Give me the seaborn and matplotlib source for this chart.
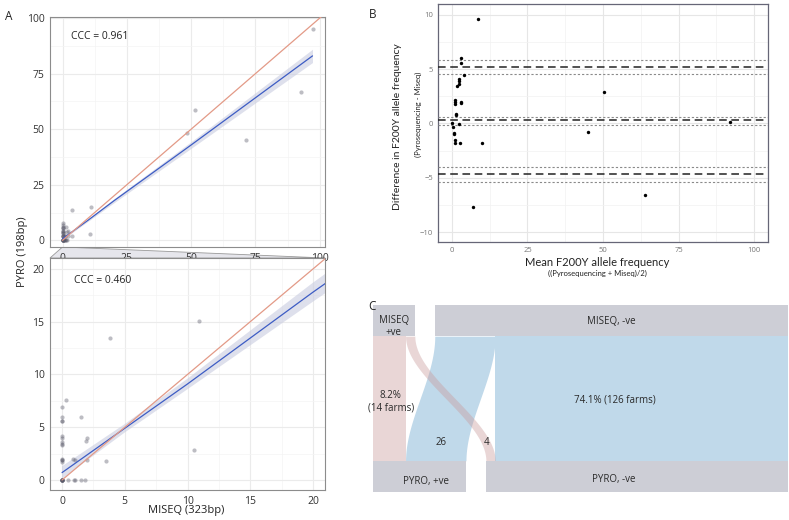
import numpy as np
import pandas as pd
import matplotlib.pyplot as plt
from matplotlib.patches import Polygon
import seaborn as sns

sns.set_theme(style="whitegrid")
plt.rcParams['font.family'] = ['Open Sans', 'DejaVu Sans']

# %%
# Data, panel A: F200Y allele frequency (%) per farm, MISEQ vs PYRO
miseq = [97.2, 92.9, 71.2, 51.5, 48.3,
         10.9, 3.8, 10.5, 3.5,
         0.35, 0, 0, 0, 0, 0, 0, 0, 0, 0, 0, 0, 0, 0,
         1.55, 2.0, 1.9, 1.95, 0.85, 1.0,
         0.5, 0.95, 1.05, 1.5, 1.8,
         0, 0, 0, 0, 0, 0, 0, 0]
pyro = [95.3, 66.7, 45.0, 58.5, 48.3,
        15.1, 13.5, 2.8, 1.8,
        7.6, 6.9, 6.0, 5.6, 5.6, 4.2, 4.0, 3.6, 3.4, 3.3, 2.0, 1.9, 1.85, 1.75,
        6.0, 4.0, 3.7, 1.9, 1.95, 1.9,
        0, 0, 0, 0, 0,
        0, 0, 0, 0, 0, 0, 0, 0]

# linear fit with its confidence band
fit_x = [0, 5, 10, 20, 50, 97.2]
fit_y = [0.7, 4.9, 9.1, 17.8, 42.9, 83.0]
fit_lo = [0.1, 4.5, 8.6, 16.9, 41.4, 80.0]
fit_hi = [1.3, 5.3, 9.6, 18.7, 44.4, 86.0]
identity = [0, 102]

ccc_full = "CCC = 0.961"
ccc_zoom = "CCC = 0.460"

# Data, panel B: Bland-Altman
ba_mean = [8.6, 3.1, 2.9, 4.0, 2.2, 2.2, 2.2, 1.8, 3.1, 3.0, 1.1, 1.1, 1.1,
           1.4, 1.5, 0.1, 0.3, 0.7, 0.8, 1.1, 1.1, 2.2, 2.8, 10.0, 7.0,
           45.2, 50.3, 64.0, 92.0]
ba_diff = [9.57, 6.0, 5.56, 4.48, 4.1, 3.9, 3.6, 3.4, 2.0, 1.85, 2.2, 2.0, 1.8,
           0.9, 0.8, 0.0, -0.3, -0.9, -1.0, -1.5, -1.8, -0.05, -1.8, -1.77, -7.7,
           -0.82, 2.85, -6.6, 0.17]
bias = 0.3
bias_ci = [-0.15, 0.6]
loa = [5.2, -4.65]
loa_ci = [[4.5, 5.85], [-5.4, -4.05]]

# Data, panel C: MISEQ -> PYRO classification of farms
flow_from = ['+ve', '+ve', '-ve', '-ve']
flow_to = ['+ve', '-ve', '+ve', '-ve']
flow_n = [14, 4, 26, 126]
flow_text = ['8.2%\n(14 farms)', '4', '26', '74.1% (126 farms)']

# %%
W, H = 789, 520
fig = plt.figure(figsize=(W / 100, H / 100), dpi=100)


def px_axes(l, t, r, b):
    return fig.add_axes([l / W, 1 - b / H, (r - l) / W, (b - t) / H])


def ftext(x, y, s, **kw):
    fig.text(x / W, 1 - y / H, s, **kw)


def style_a(ax, major, minor):
    ax.set_xticks(major)
    ax.set_yticks(major)
    ax.set_xticks(minor, minor=True)
    ax.set_yticks(minor, minor=True)
    ax.grid(which='major', color='#ebebeb', lw=0.8)
    ax.grid(which='minor', color='#f4f4f4', lw=0.5)
    ax.tick_params(which='major', length=2.5, width=0.6, color='#888888',
                   labelsize=7.5, labelcolor='#333333', pad=1.5)
    ax.tick_params(which='minor', length=0)
    for s in ax.spines.values():
        s.set_color('#8c8c8c')
        s.set_linewidth(0.8)
    ax.set_xlabel('')
    ax.set_ylabel('')


df_a = pd.DataFrame({'miseq': miseq, 'pyro': pyro})

axA1 = px_axes(50, 17, 325, 247)
axA2 = px_axes(50, 258, 325, 490)

for ax in (axA1, axA2):
    ax.fill_between(fit_x, fit_lo, fit_hi, color='#c9cce0', alpha=0.6, lw=0, zorder=2)
    sns.scatterplot(data=df_a, x='miseq', y='pyro', ax=ax, color='#5a5a6a',
                    alpha=0.4, s=9, linewidth=0, zorder=3)
    ax.plot(fit_x, fit_y, color='#3d5cc4', lw=0.9, zorder=4)
    ax.plot(identity, identity, color='#e39a87', lw=0.9, zorder=4)

axA1.set_xlim(-4.86, 102.06)
axA1.set_ylim(-3.0, 100.5)
style_a(axA1, [0, 25, 50, 75, 100], [12.5, 37.5, 62.5, 87.5])
axA1.text(0.075, 0.915, ccc_full, transform=axA1.transAxes, fontsize=7.5,
          color='#222222', va='center')

axA2.set_xlim(-0.96, 20.96)
axA2.set_ylim(-0.95, 21.04)
style_a(axA2, [0, 5, 10, 15, 20], [2.5, 7.5, 12.5, 17.5])
axA2.text(0.087, 0.905, ccc_zoom, transform=axA2.transAxes, fontsize=7.5,
          color='#222222', va='center')

# zoom connector between the two A panels (kept under the tick labels)
inv = fig.transFigure.inverted()
p_top = inv.transform(axA1.transData.transform((0, axA1.get_ylim()[0])))
p_bl = inv.transform(axA2.transAxes.transform((0, 1)))
p_br = inv.transform(axA2.transAxes.transform((1, 1)))
fig.patches.append(Polygon([p_bl, p_top, p_br], closed=True, transform=fig.transFigure,
                           facecolor='#e6e6ec', edgecolor='#9a9a9a', lw=0.6, zorder=-1))

ftext(23, 252, 'PYRO (198bp)', rotation=90, ha='center', va='center',
      fontsize=8, color='#222222')
ftext(186, 511, 'MISEQ (323bp)', ha='center', va='center', fontsize=8, color='#222222')
ftext(9, 17, 'A', ha='center', va='center', fontsize=8.5, color='#222222')

# %%
# Panel B
axB = px_axes(438, 4, 768, 242)
df_b = pd.DataFrame({'mean': ba_mean, 'diff': ba_diff})
sns.scatterplot(data=df_b, x='mean', y='diff', ax=axB, color='black', s=6,
                linewidth=0, zorder=4)
for y in [bias] + loa:
    axB.axhline(y, color='#222222', lw=1.1, ls=(0, (5, 3)), zorder=3)
for y in bias_ci + loa_ci[0] + loa_ci[1]:
    axB.axhline(y, color='#8a8a8a', lw=0.8, ls=(0, (2, 1.8)), zorder=3)
axB.set_xlim(-4.6, 104.6)
axB.set_ylim(-10.9, 10.98)
axB.set_xticks([0, 25, 50, 75, 100])
axB.set_yticks([-10, -5, 0, 5, 10])
axB.set_xticks([12.5, 37.5, 62.5, 87.5], minor=True)
axB.set_yticks([-7.5, -2.5, 2.5, 7.5], minor=True)
axB.grid(which='major', color='#e6e6e6', lw=0.8)
axB.grid(which='minor', color='#f2f2f2', lw=0.5)
axB.tick_params(which='major', length=2, width=0.5, color='#999999',
                labelsize=5.5, labelcolor='#777777', pad=1.5)
axB.tick_params(which='minor', length=0)
for s in axB.spines.values():
    s.set_color('#666677')
    s.set_linewidth(0.9)
axB.set_xlabel('')
axB.set_ylabel('')

narrow = ['Liberation Sans Narrow', 'Lato', 'DejaVu Sans']
ftext(398, 127, 'Difference in F200Y allele frequency', rotation=90, ha='center',
      va='center', fontsize=7.5, family=narrow, color='#222222')
ftext(418, 114, '(Pyrosequencing - Miseq)', rotation=90, ha='center', va='center',
      fontsize=5.5, family=narrow, color='#222222')
ftext(597, 263, 'Mean F200Y allele frequency', ha='center', va='center',
      fontsize=8, family=['Lato', 'DejaVu Sans'], color='#222222')
ftext(597, 273.5, '((Pyrosequencing + Miseq)/2)', ha='center', va='center',
      fontsize=5.5, family=['Lato', 'DejaVu Sans'], color='#222222')
ftext(373, 14, 'B', ha='center', va='center', fontsize=8.5, color='#222222')

# %%
# Panel C: alluvial plot
axC = px_axes(373, 305, 788, 492)
gap = 20 / 2.333
grey_box = '#cdced6'
flow_col = {'+ve': ('#c99a9a', 0.4), '-ve': ('#c0d9ea', 1.0)}

# box sizes and stacking of the flows inside each box
top_size = {k: sum(n for f, n in zip(flow_from, flow_n) if f == k) for k in ['+ve', '-ve']}
bot_size = {k: sum(n for t, n in zip(flow_to, flow_n) if t == k) for k in ['+ve', '-ve']}
top_start = {'+ve': 0, '-ve': top_size['+ve'] + gap}
bot_start = {'+ve': 0, '-ve': bot_size['+ve'] + gap}

top_pos = []
cur = dict(top_start)
for f, n in zip(flow_from, flow_n):
    top_pos.append(cur[f])
    cur[f] += n

cur = dict(bot_start)
bot_pos = [0] * len(flow_n)
order = sorted(range(len(flow_n)), key=lambda i: (flow_to[i], flow_from[i] == '-ve'))
for i in order:
    bot_pos[i] = cur[flow_to[i]]
    cur[flow_to[i]] += flow_n[i]

y0, y1 = 1.0, 5.0
yy = np.linspace(y0, y1, 200)
t = (yy - y0) / (y1 - y0)
s = t * t * (3 - 2 * t)
draw_order = sorted(range(len(flow_n)), key=lambda i: flow_from[i] == '+ve')
for i in draw_order:
    col, a = flow_col[flow_from[i]]
    left = bot_pos[i] + (top_pos[i] - bot_pos[i]) * s
    axC.fill_betweenx(yy, left, left + flow_n[i], color=col, alpha=a, lw=0)

for k in ['+ve', '-ve']:
    axC.add_patch(plt.Rectangle((top_start[k], y1), top_size[k], 1, color=grey_box, lw=0))
    axC.add_patch(plt.Rectangle((bot_start[k], 0), bot_size[k], 1, color=grey_box, lw=0))

tc = '#2a2a2a'
axC.text(9, 5.3, 'MISEQ\n+ve', ha='center', va='center', fontsize=7, color=tc,
         linespacing=1.1)
axC.text(102.5, 5.48, 'MISEQ, -ve', ha='center', va='center', fontsize=7, color=tc)
axC.text(22.7, 0.35, 'PYRO, +ve', ha='center', va='center', fontsize=7, color=tc)
axC.text(103.5, 0.41, 'PYRO, -ve', ha='center', va='center', fontsize=7, color=tc)
text_xy = [(7.6, 2.89), (48.7, 1.59), (29.4, 1.59), (104.1, 2.95)]
for (x, y), lab in zip(text_xy, flow_text):
    axC.text(x, y, lab, ha='center', va='center', fontsize=7, color=tc,
             linespacing=1.2)

axC.set_xlim(0, sum(flow_n) + gap)
axC.set_ylim(0, 6)
axC.axis('off')
ftext(372, 306, 'C', ha='center', va='center', fontsize=8.5, color='#222222')

fig.savefig('out.png', dpi=100)
